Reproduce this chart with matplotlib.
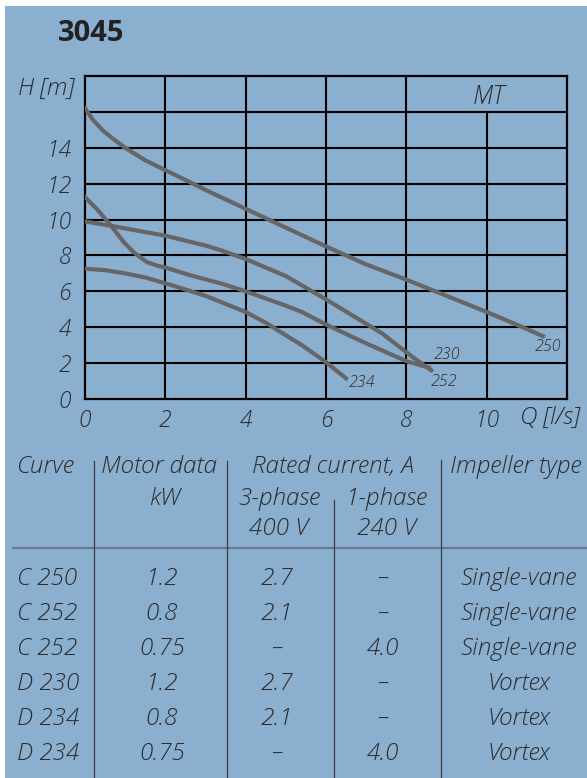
import matplotlib
matplotlib.use('Agg')
import matplotlib.pyplot as plt
from matplotlib.lines import Line2D
from matplotlib.patches import Rectangle

# pump curves, Q [l/s] / H [m]
q_250 = [0, 0.2, 0.45, 0.7, 1.0, 1.5, 2, 2.6, 3, 4, 5, 6, 7, 8, 9, 10, 11, 11.4]
h_250 = [16.2, 15.55, 14.95, 14.5, 14.0, 13.3, 12.75, 12.1, 11.65, 10.6, 9.55, 8.5, 7.5,
         6.65, 5.75, 4.85, 3.9, 3.5]

q_230 = [0, 0.7, 2, 3, 3.4, 4, 5, 6, 6.7, 7.4, 7.8, 8.15, 8.62]
h_230 = [9.9, 9.63, 9.1, 8.55, 8.28, 7.8, 6.85, 5.55, 4.6, 3.65, 2.95, 2.35, 1.6]

q_252 = [0, 0.29, 0.54, 0.71, 0.96, 1.21, 1.54, 1.8, 2.04, 2.63, 3.4, 4, 5, 5.4, 6, 7, 8, 8.56]
h_252 = [11.25, 10.6, 9.95, 9.48, 8.75, 8.18, 7.63, 7.43, 7.3, 6.89, 6.43, 6.0, 5.2, 4.85,
         4.15, 3.1, 2.11, 1.75]

q_234 = [0, 0.5, 1, 1.5, 2, 3, 4, 4.5, 5, 5.4, 6, 6.5]
h_234 = [7.26, 7.18, 7.0, 6.77, 6.45, 5.75, 4.85, 4.25, 3.55, 3.0, 2.05, 1.15]

curve_labels = ['250', '230', '252', '234']
label_pos = [(11.52, 2.9), (9.0, 2.44), (8.93, 0.96), (6.9, 0.9)]

x_ticks = [0, 2, 4, 6, 8, 10]
y_ticks = [0, 2, 4, 6, 8, 10, 12, 14]

# table
col_curve = ['C 250', 'C 252', 'C 252', 'D 230', 'D 234', 'D 234']
col_kw = ['1.2', '0.8', '0.75', '1.2', '0.8', '0.75']
col_3ph = ['2.7', '2.1', '–', '2.7', '2.1', '–']
col_1ph = ['–', '–', '4.0', '–', '–', '4.0']
col_impeller = ['Single-vane', 'Single-vane', 'Single-vane', 'Vortex', 'Vortex', 'Vortex']

W, H = 587, 778
bg = '#8bafcf'
txt = '#2b2b2b'
font = dict(family='Open Sans', style='italic', weight='light', color=txt)

fig = plt.figure(figsize=(W / 100, H / 100), dpi=100)
fig.patch.set_facecolor('white')
fig.add_artist(Rectangle((5 / W, 0), 1, 1 - 6 / H, transform=fig.transFigure,
                         facecolor=bg, edgecolor='none', zorder=-10))


def fx(px):
    return px / W


def fy(py):
    return 1 - py / H


fig.text(fx(58), fy(41), '3045', fontsize=21, fontweight='bold',
         family='Open Sans', color='#222222', va='baseline')

ax = fig.add_axes([fx(85), fy(399), fx(567) - fx(85), fy(76) - fy(399)])
ax.set_facecolor(bg)
ax.set_xlim(0, 12)
ax.set_ylim(0, 18)
for s in ax.spines.values():
    s.set_linewidth(1.6)
    s.set_color('black')

ax.hlines([2, 4, 6, 8, 10, 12, 14, 16], 0, 12, color='black', lw=1.5, zorder=1)
ax.vlines([2, 4, 6, 8], 0, 18, color='black', lw=1.5, zorder=1)
ax.vlines([10], 0, 16, color='black', lw=1.5, zorder=1)

for q, h in [(q_250, h_250), (q_230, h_230), (q_252, h_252), (q_234, h_234)]:
    ax.plot(q, h, color='#666666', lw=3.0, solid_joinstyle='round', zorder=3)

for lab, (x, y) in zip(curve_labels, label_pos):
    ax.text(x, y, lab, fontsize=11.5, ha='center', va='center', **font)

ax.set_xticks(x_ticks)
ax.set_yticks(y_ticks)
ax.set_xticklabels([str(t) for t in x_ticks])
ax.set_yticklabels([str(t) for t in y_ticks])
ax.tick_params(length=0, labelsize=16.5, colors=txt)
ax.tick_params(axis='x', pad=7)
ax.tick_params(axis='y', pad=10)
for lbl in ax.get_xticklabels() + ax.get_yticklabels():
    lbl.set_fontstyle('italic')
    lbl.set_fontweight('light')
    lbl.set_family('Open Sans')

ax.text(-0.275, 17.28, 'H [m]', fontsize=17.5, ha='right', va='center', **font)
ax.text(10.825, -1.06, 'Q [l/s]', fontsize=17.5, ha='left', va='center',
        clip_on=False, **font)
ax.text(10.05, 16.78, 'MT', fontsize=18, ha='center', va='center', **font)

# table header
fs = 17.5
fig.text(fx(17), fy(473), 'Curve', fontsize=fs, ha='left', va='baseline', **font)
fig.text(fx(159), fy(473), 'Motor data', fontsize=fs, ha='center', va='baseline', **font)
fig.text(fx(165), fy(505), 'kW', fontsize=fs, ha='center', va='baseline', **font)
fig.text(fx(333), fy(473), 'Rated current, A', fontsize=fs, ha='center', va='baseline', **font)
fig.text(fx(279), fy(505), '3-phase', fontsize=fs, ha='center', va='baseline', **font)
fig.text(fx(387), fy(505), '1-phase', fontsize=fs, ha='center', va='baseline', **font)
fig.text(fx(279), fy(535), '400 V', fontsize=fs, ha='center', va='baseline', **font)
fig.text(fx(387), fy(535), '240 V', fontsize=fs, ha='center', va='baseline', **font)
fig.text(fx(450), fy(473), 'Impeller type', fontsize=fs, ha='left', va='baseline', **font)

fig.add_artist(Line2D([fx(13), fx(587)], [fy(547.7), fy(547.7)], color='#687b8f', lw=1.6))
for x, top in [(94.3, 460.7), (226.7, 460.7), (334.3, 500), (440.7, 460)]:
    fig.add_artist(Line2D([fx(x), fx(x)], [fy(top), fy(778)], color='#3a3f47', lw=0.9))

for i in range(len(col_curve)):
    base = fy(585 + 35 * i)
    fig.text(fx(17), base, col_curve[i], fontsize=fs, ha='left', va='baseline', **font)
    fig.text(fx(162), base, col_kw[i], fontsize=fs, ha='center', va='baseline', **font)
    fig.text(fx(277), base, col_3ph[i], fontsize=fs, ha='center', va='baseline', **font)
    fig.text(fx(383), base, col_1ph[i], fontsize=fs, ha='center', va='baseline', **font)
    fig.text(fx(519), base, col_impeller[i], fontsize=fs, ha='center', va='baseline', **font)

fig.savefig('out.png', dpi=100, facecolor=fig.get_facecolor())
